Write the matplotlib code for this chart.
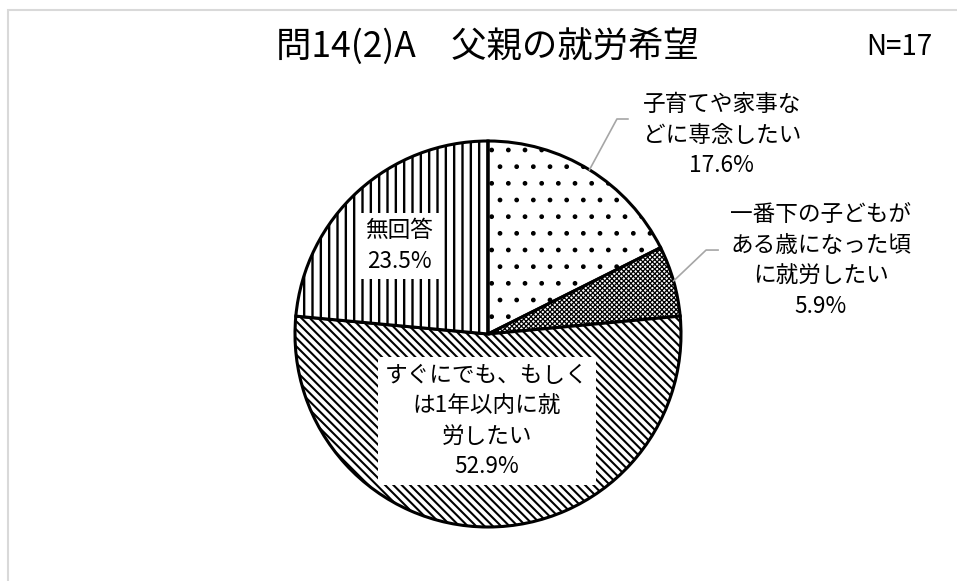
import matplotlib
matplotlib.use("Agg")
import matplotlib.pyplot as plt
from matplotlib.patches import Rectangle
import numpy as np

plt.rcParams['font.family'] = ['Noto Sans CJK JP', 'DejaVu Sans']
plt.rcParams['hatch.linewidth'] = 1.6

W, H = 957, 581

title = "問14(2)A　父親の就労希望"
n_text = "N=17"
categories = ["子育てや家事な\nどに専念したい",
              "一番下の子どもが\nある歳になった頃\nに就労したい",
              "すぐにでも、もしく\nは1年以内に就\n労したい",
              "無回答"]
percents = [17.6, 5.9, 52.9, 23.5]
hatches = [".", "xxxxxxx", "\\\\\\\\", "||"]
hatch_widths = [1.0, 0.9, 1.5, 1.7]


def fx(px):
    return px / W


def fy(py):
    return 1 - py / H


fig = plt.figure(figsize=(W / 100, H / 100), dpi=100)
fig.patch.set_facecolor("white")

# light frame round the chart area
fig.add_artist(Rectangle((fx(8), fy(H + 20)), fx(W + 20), fy(10) - fy(H + 20),
                         transform=fig.transFigure, fill=False,
                         edgecolor="#d9d9d9", linewidth=1.5))

# pie placed by its centre and radius in pixels
cx, cy, r = 488, 334, 193
ax = fig.add_axes([fx(cx - r), fy(cy + r), 2 * r / W, 2 * r / H])
wedges, _ = ax.pie(percents, startangle=90, counterclock=False, radius=1,
                   wedgeprops=dict(facecolor="white", edgecolor="black",
                                   linewidth=2.2))
for w, h, hw in zip(wedges, hatches, hatch_widths):
    w.set_hatch(h)
    if hasattr(w, "set_hatch_linewidth"):
        w.set_hatch_linewidth(hw)
ax.set_xlim(-1, 1)
ax.set_ylim(-1, 1)
ax.set_aspect("equal")
ax.axis("off")

fs = 16.3
ls = 1.41


def label_text(i):
    return f"{categories[i]}\n{percents[i]:.1f}%"


def edge_point(wd):
    mid = np.deg2rad((wd.theta1 + wd.theta2) / 2)
    return np.cos(mid), np.sin(mid)


# outside labels with leader lines
outside = {0: dict(knee=(0.668, 1.114), end=0.725, pos=(1.212, 1.03)),
           1: dict(knee=(1.130, 0.435), end=1.192, pos=(1.725, 0.378))}
for i, o in outside.items():
    x0, y0 = edge_point(wedges[i])
    kx, ky = o["knee"]
    ax.plot([x0, kx, o["end"]], [y0, ky, ky], color="#a6a6a6", lw=1.2,
            clip_on=False)
    ax.text(*o["pos"], label_text(i), ha="center", va="center", fontsize=fs,
            linespacing=ls, clip_on=False)

# inside labels on white boxes
inside = {2: (-0.005, -0.451), 3: (-0.461, 0.456)}
for i, pos in inside.items():
    ax.text(*pos, label_text(i), ha="center", va="center", fontsize=fs,
            linespacing=ls,
            bbox=dict(boxstyle="square,pad=0.3", facecolor="white",
                      edgecolor="none"))

fig.text(fx(487), fy(47), title, ha="center", va="center", fontsize=25.5)
fig.text(fx(899), fy(47), n_text, ha="center", va="center", fontsize=20)

fig.savefig("out.png", dpi=100, facecolor="white")
